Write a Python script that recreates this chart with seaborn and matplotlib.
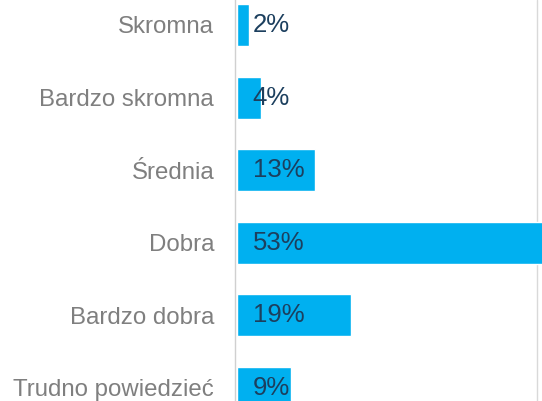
import matplotlib
matplotlib.use("Agg")
import matplotlib.pyplot as plt
import seaborn as sns
import pandas as pd

categories = ["Skromna", "Bardzo skromna", "Średnia", "Dobra", "Bardzo dobra", "Trudno powiedzieć"]
values = [2, 4, 13, 53, 19, 9]
value_labels = [f"{v}%" for v in values]

df = pd.DataFrame({"kategoria": categories, "udzial": values})

sns.set_style("white")
plt.rcParams["font.family"] = ["Liberation Sans", "DejaVu Sans"]

W, H, DPI = 542, 401, 100
fig = plt.figure(figsize=(W / DPI, H / DPI), dpi=DPI)
ax = fig.add_axes([235 / W, 0, (W - 235) / W, 1])

sns.barplot(data=df, x="udzial", y="kategoria", order=categories,
            color="#00B0F0", saturation=1, width=0.58, orient="h", ax=ax, zorder=3)

# 6 px per percentage point; axis line sits slightly left of the bar base
ax.set_xlim(-0.33, -0.33 + (W - 235) / 6.0)
ax.set_ylim(5.18, -0.344)

ax.axvline(50, color="#d9d9d9", lw=1, zorder=1)

for i, (v, lab) in enumerate(zip(values, value_labels)):
    ax.text(2.6, i, lab, ha="left", va="center", fontsize=18.5, color="#1c3f5e", zorder=4)

for s in ["top", "right", "bottom"]:
    ax.spines[s].set_visible(False)
ax.spines["left"].set_color("#d0d0d0")
ax.spines["left"].set_linewidth(1)

ax.set_xticks([])
ax.set_xlabel("")
ax.set_ylabel("")
ax.tick_params(axis="y", length=0, pad=15, labelsize=17.3, labelcolor="#7f7f7f")

fig.savefig("out.png", dpi=DPI)
